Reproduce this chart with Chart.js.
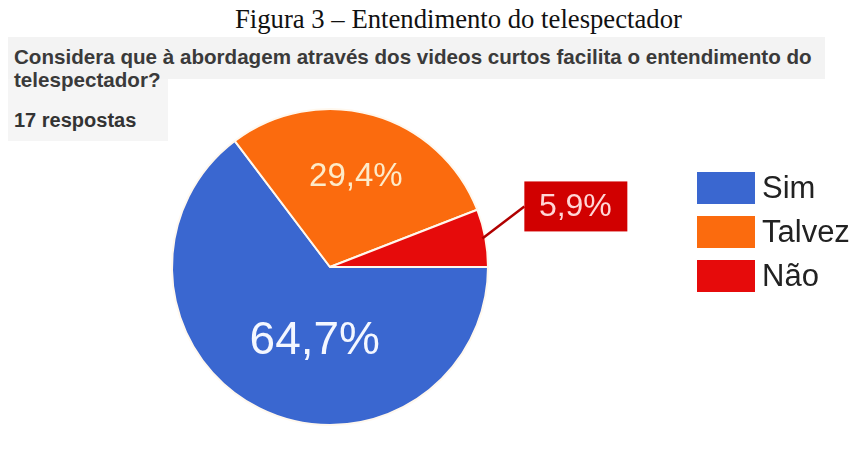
<!DOCTYPE html>
<html>
<head>
<meta charset="utf-8">
<script src="https://cdn.jsdelivr.net/npm/chart.js@4"></script>
<style>
  body { margin: 0; width: 855px; height: 450px; background: #fff; position: relative; overflow: hidden; }
  .titulo { position: absolute; left: 235px; top: 4px; font-family: "Liberation Serif", "Times New Roman", serif; font-size: 26.7px; color: #111; white-space: nowrap; }
  .faixa { position: absolute; left: 8px; top: 37px; width: 817px; height: 42px; background: #f3f3f3; }
  .faixa2 { position: absolute; left: 8px; top: 79px; width: 160px; height: 62px; background: #f5f5f5; }
  .pergunta { position: absolute; left: 14px; top: 45px; font-family: "Liberation Sans", Arial, sans-serif; font-weight: bold; font-size: 20.6px; line-height: 23px; color: #3a3a3a; width: 830px; white-space: nowrap; }
  .respostas { position: absolute; left: 14px; top: 109px; font-family: "Liberation Sans", Arial, sans-serif; font-weight: bold; font-size: 20px; color: #333; }
  #grafico { position: absolute; left: 0; top: 0; }
</style>
</head>
<body>
<div class="faixa"></div>
<div class="faixa2"></div>
<div class="titulo">Figura 3 – Entendimento do telespectador</div>
<div class="pergunta">Considera que à abordagem através dos videos curtos facilita o entendimento do<br>telespectador?</div>
<div class="respostas">17 respostas</div>
<canvas id="grafico" width="855" height="450"></canvas>
<script>
const categorias = ["Sim", "Talvez", "Não"];
const percentuais = [64.7, 29.4, 5.9];
const cores = ["#3a67d0", "#fb6b0e", "#e60b0b"];

// rótulos de porcentagem dentro das fatias e o da fatia pequena com linha
const rotulos = {
  id: "rotulos",
  afterDatasetsDraw(chart) {
    const ctx = chart.ctx;
    const meta = chart.getDatasetMeta(0);
    ctx.save();
    ctx.textAlign = "center";
    ctx.textBaseline = "middle";
    meta.data.forEach((arc, i) => {
      const texto = percentuais[i].toFixed(1).replace(".", ",") + "%";
      const meio = (arc.startAngle + arc.endAngle) / 2;
      const r = arc.outerRadius;
      if (percentuais[i] < 10) {
        const x0 = arc.x + Math.cos(meio) * (r - 3);
        const y0 = arc.y + Math.sin(meio) * (r - 3);
        const x1 = x0 + 42, y1 = y0 - 32;
        ctx.strokeStyle = "#b00000";
        ctx.lineWidth = 2.5;
        ctx.beginPath();
        ctx.moveTo(x0, y0);
        ctx.lineTo(x1, y1);
        ctx.stroke();
        ctx.fillStyle = "#d10000";
        ctx.fillRect(x1, y1 - 25, 103, 50);
        ctx.fillStyle = "#ffd6d6";
        ctx.font = "32px 'Liberation Sans', Arial, sans-serif";
        ctx.fillText(texto, x1 + 51, y1 + 1);
      } else {
        const grande = percentuais[i] > 50;
        const d = grande ? 0.5 : 0.6;
        const x = arc.x + Math.cos(meio) * r * d + (grande ? 20 : 0);
        const y = arc.y + Math.sin(meio) * r * d + (grande ? 4 : 1);
        ctx.fillStyle = grande ? "#f4f7ff" : "#fdebc9";
        ctx.font = (grande ? "46px" : "33px") + " 'Liberation Sans', Arial, sans-serif";
        ctx.fillText(texto, x, y);
      }
    });
    ctx.restore();
  }
};

// legenda à direita com quadrados grandes
const legenda = {
  id: "legenda",
  afterDraw(chart) {
    const ctx = chart.ctx;
    ctx.save();
    ctx.textBaseline = "middle";
    ctx.font = "31px 'Liberation Sans', Arial, sans-serif";
    categorias.forEach((nome, i) => {
      const y = 172 + i * 44;
      ctx.fillStyle = cores[i];
      ctx.fillRect(697, y, 58, 32);
      ctx.fillStyle = "#222";
      ctx.fillText(nome, 762, y + 17);
    });
    ctx.restore();
  }
};

new Chart(document.getElementById("grafico"), {
  type: "pie",
  data: {
    labels: categorias,
    datasets: [{
      data: percentuais,
      backgroundColor: cores,
      borderColor: "#fff8ee",
      borderWidth: 2
    }]
  },
  options: {
    responsive: false,
    animation: false,
    rotation: 90,
    layout: { padding: { left: 171, right: 366, top: 108, bottom: 24 } },
    plugins: {
      legend: { display: false },
      tooltip: { enabled: false }
    }
  },
  plugins: [rotulos, legenda]
});
</script>
</body>
</html>
